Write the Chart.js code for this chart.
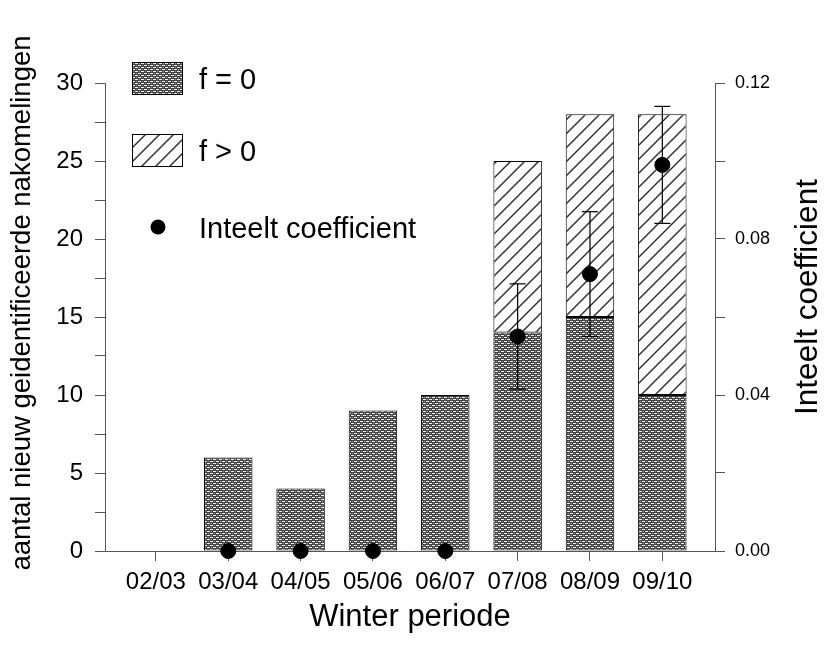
<!DOCTYPE html>
<html><head><meta charset="utf-8">
<script src="https://cdn.jsdelivr.net/npm/chart.js@4.4.1/dist/chart.umd.min.js"></script>
<style>html,body{margin:0;padding:0;background:#fff}#c{display:block}</style>
</head><body>
<canvas id="c" width="827" height="645"></canvas>
<script>
// ---- data ----
const categories = ['02/03','03/04','04/05','05/06','06/07','07/08','08/09','09/10'];
const countF0 = [0, 6, 4, 9, 10, 14, 15, 10];
const countFpos = [0, 0, 0, 0, 0, 11, 13, 18];
const inbreeding = [null, 0, 0, 0, 0, 0.055, 0.071, 0.099];
const inbreedingErr = [null, null, null, null, null, 0.0135, 0.016, 0.015];
const seriesLabels = ['f = 0', 'f > 0', 'Inteelt coefficient'];
const axisTitles = { x: 'Winter periode', y: 'aantal nieuw geidentificeerde nakomelingen', y1: 'Inteelt coefficient' };

const FONT = '"Liberation Sans", Arial, sans-serif';

function makeGridPattern() {
  const c = document.createElement('canvas'); c.width = 6; c.height = 4;
  const g = c.getContext('2d');
  const D = '#444', W = '#eeeeee', G = '#9a9a9a';
  const rows = [
    [D, D, D, D, D, D],
    [W, W, W, D, G, D],
    [D, D, D, D, D, D],
    [D, G, D, W, W, W]
  ];
  rows.forEach((r, y) => r.forEach((col, x) => { g.fillStyle = col; g.fillRect(x, y, 1, 1); }));
  return g.createPattern(c, 'repeat');
}
function makeHatchPattern() {
  const s = 14;
  const c = document.createElement('canvas'); c.width = s; c.height = s;
  const g = c.getContext('2d');
  g.fillStyle = '#fff'; g.fillRect(0, 0, s, s);
  g.strokeStyle = '#333'; g.lineWidth = 1.5;
  g.beginPath();
  g.moveTo(-2, s + 2); g.lineTo(s + 2, -2);
  g.moveTo(-2, 2); g.lineTo(2, -2);
  g.moveTo(s - 2, s + 2); g.lineTo(s + 2, s - 2);
  g.stroke();
  return g.createPattern(c, 'repeat');
}
const gridPat = makeGridPattern();
const hatchPat = makeHatchPattern();

const barF0 = countF0.map((v, i) => ({ x: i, y: v }));
const barFpos = countFpos.map((v, i) => ({ x: i, y: v }));
const dots = [];
inbreeding.forEach((v, i) => { if (v !== null) dots.push({ x: i, y: v }); });
const errPts = [];
inbreeding.forEach((v, i) => {
  const e = inbreedingErr[i];
  if (v !== null && e !== null) {
    errPts.push({ x: i, y: v - e }, { x: i, y: v + e }, { x: i, y: null });
  }
});

const decor = {
  id: 'decor',
  afterDraw(chart) {
    const ctx = chart.ctx;
    ctx.save();
    ctx.fillStyle = '#000';
    ctx.textBaseline = 'middle';
    // legend
    const items = [
      { label: seriesLabels[0], fill: gridPat, y: 62 },
      { label: seriesLabels[1], fill: hatchPat, y: 134 }
    ];
    ctx.font = '29px ' + FONT;
    items.forEach(it => {
      ctx.fillStyle = it.fill;
      ctx.fillRect(132, it.y, 51, 33);
      ctx.strokeStyle = '#000'; ctx.lineWidth = 1;
      ctx.strokeRect(132.5, it.y + 0.5, 50, 32);
      ctx.fillStyle = '#000';
      ctx.textAlign = 'left';
      ctx.fillText(it.label, 199, it.y + 19);
    });
    ctx.beginPath(); ctx.arc(158, 227, 7.5, 0, Math.PI * 2); ctx.fillStyle = '#000'; ctx.fill();
    ctx.fillText(seriesLabels[2], 199, 230);
    // y axis titles
    ctx.textAlign = 'center';
    ctx.save();
    ctx.translate(22, 303); ctx.rotate(-Math.PI / 2);
    ctx.font = '27.5px ' + FONT;
    ctx.fillText(axisTitles.y, 0, 0);
    ctx.restore();
    ctx.save();
    ctx.translate(808, 297); ctx.rotate(-Math.PI / 2);
    ctx.font = '31.5px ' + FONT;
    ctx.fillText(axisTitles.y1, 0, 0);
    ctx.restore();
    ctx.restore();
  }
};

new Chart(document.getElementById('c'), {
  type: 'bar',
  data: {
    datasets: [
      { type: 'line', label: seriesLabels[2], data: dots, yAxisID: 'y1', showLine: false,
        pointRadius: 7.5, pointBackgroundColor: '#000', pointBorderColor: '#000', borderColor: '#000', order: 0, clip: false },
      { type: 'line', label: 'err', data: errPts, yAxisID: 'y1', borderColor: '#000', borderWidth: 1.2,
        pointStyle: 'line', pointRadius: 8, pointBorderWidth: 1.2, pointBorderColor: '#000', spanGaps: false, fill: false, order: 1, clip: false },
      { type: 'bar', label: seriesLabels[0], data: barF0, yAxisID: 'y', stack: 's', backgroundColor: gridPat,
        borderColor: '#000', borderWidth: 1, borderSkipped: false, order: 2 },
      { type: 'bar', label: seriesLabels[1], data: barFpos, yAxisID: 'y', stack: 's', backgroundColor: hatchPat,
        borderColor: '#000', borderWidth: 1, borderSkipped: false, order: 3 }
    ]
  },
  options: {
    responsive: false,
    animation: false,
    layout: { padding: { top: 83, left: 0, right: 0, bottom: 0 } },
    datasets: { bar: { barPercentage: 0.67, categoryPercentage: 1.0 } },
    plugins: { legend: { display: false }, tooltip: { enabled: false } },
    scales: {
      x: {
        type: 'linear', min: -0.7035, max: 7.728, offset: false,
        afterBuildTicks: s => { s.ticks = categories.map((_, i) => ({ value: i })); },
        ticks: { callback: v => categories[v] ?? '', font: { family: FONT, size: 24 }, color: '#000', padding: 7, maxRotation: 0, autoSkip: false },
        grid: { offset: false, drawOnChartArea: false, drawTicks: true, tickLength: 10, color: '#555' },
        border: { display: true, color: '#555', width: 1 },
        title: { display: true, text: axisTitles.x, font: { family: FONT, size: 31 }, color: '#000', padding: { top: 0, bottom: 9 } },
        afterFit: s => { s.height = 94; }
      },
      y: {
        position: 'left', min: 0, max: 30, stacked: true,
        ticks: { stepSize: 2.5, callback: v => (Math.abs(v % 5) < 1e-9 ? v : ''), font: { family: FONT, size: 24 }, color: '#000', padding: 12 },
        grid: { drawOnChartArea: false, drawTicks: true, tickLength: 10, color: '#555' },
        border: { display: true, color: '#555', width: 1 },
        afterFit: s => { s.width = 105; }
      },
      y1: {
        position: 'right', min: 0, max: 0.12, stacked: false,
        ticks: { stepSize: 0.02, callback: v => { const r = v / 0.04; return Math.abs(r - Math.round(r)) < 1e-6 ? v.toFixed(2) : ''; },
          font: { family: FONT, size: 18 }, color: '#000', padding: 10 },
        grid: { drawOnChartArea: false, drawTicks: true, tickLength: 10, color: '#555' },
        border: { display: true, color: '#555', width: 1 },
        afterFit: s => { s.width = 112; }
      }
    }
  },
  plugins: [decor]
});
</script>
</body></html>
